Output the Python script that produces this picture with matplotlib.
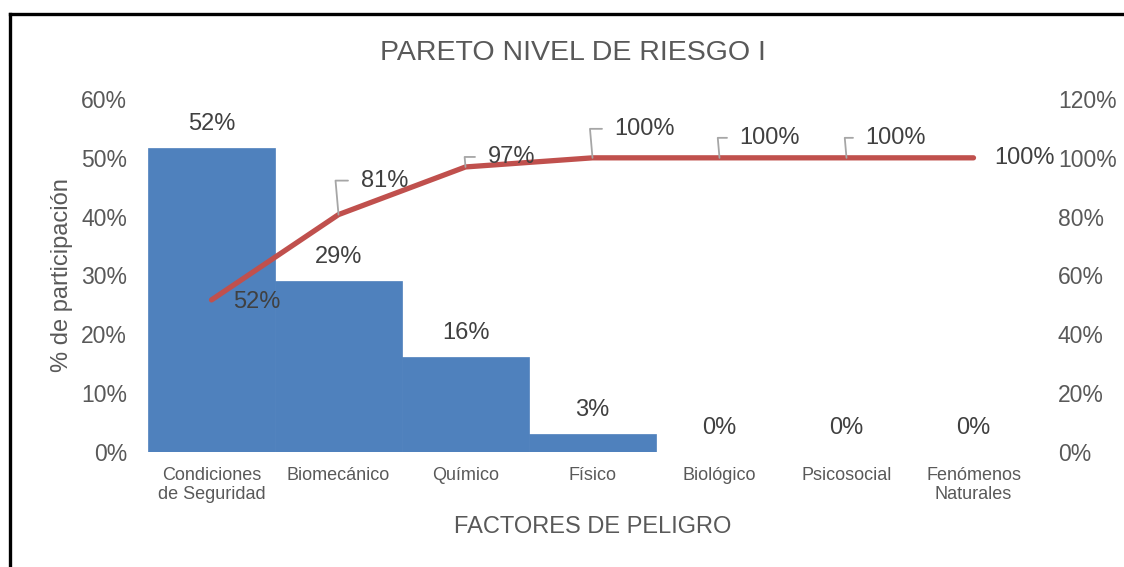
####################################################################################################
# Pareto chart: Nivel de riesgo I
####################################################################################################

import numpy as np
import matplotlib
matplotlib.use("Agg")
import matplotlib.pyplot as plt
from matplotlib.lines import Line2D
from matplotlib.ticker import PercentFormatter

plt.rcParams['font.family'] = ['Liberation Sans', 'DejaVu Sans']

# Data
categories = ['Condiciones\nde Seguridad', 'Biomecánico', 'Químico', 'Físico',
              'Biológico', 'Psicosocial', 'Fenómenos\nNaturales']
participation = [51.7, 29.0, 16.2, 3.1, 0.0, 0.0, 0.0]
cumulative = [51.7, 80.7, 96.9, 100.0, 100.0, 100.0, 100.0]

# Label offsets for the cumulative line (pixels) and whether a leader line is drawn
lineLabelOffsets = [(22, -2), (22, 34), (22, 10), (22, 29), (20, 20), (19, 20), (21, 0)]
lineLabelLeader = [False, True, True, True, True, True, False]

barColor = '#4F81BD'
lineColor = '#C0504D'
axisTextColor = '#595959'
labelTextColor = '#404040'

fig = plt.figure(figsize=(11.24, 5.67), dpi=100)
ax = fig.add_axes([148 / 1124, 1 - 452 / 567, (1037 - 148) / 1124, (452 - 99) / 567])
ax2 = ax.twinx()

x = np.arange(len(categories))
ax.bar(x, participation, width=1.0, color=barColor, edgecolor=barColor, linewidth=0.5)
ax.set_xlim(-0.5, len(categories) - 0.5)
ax.set_ylim(0, 60)
ax.set_yticks(np.arange(0, 61, 10))
ax.yaxis.set_major_formatter(PercentFormatter(decimals=0))
ax.set_xticks(x)
ax.set_xticklabels(categories, fontsize=13, color=axisTextColor, linespacing=1.1)
ax.tick_params(axis='x', length=0, pad=11)
ax.tick_params(axis='y', length=0, pad=15, labelsize=16.5, labelcolor=axisTextColor)

# Bar value labels
for xi, v in zip(x, participation):
    ax.annotate('{:.0f}%'.format(v), xy=(xi, v), xytext=(0, 24), textcoords='offset pixels',
                ha='center', va='center', fontsize=17, color=labelTextColor)

# Cumulative line
ax2.plot(x, cumulative, color=lineColor, linewidth=3.8, solid_capstyle='round',
         solid_joinstyle='round', zorder=3)
ax2.set_ylim(0, 120)
ax2.set_yticks(np.arange(0, 121, 20))
ax2.yaxis.set_major_formatter(PercentFormatter(decimals=0))
ax2.tick_params(axis='y', length=0, pad=15, labelsize=16.5, labelcolor=axisTextColor)

for xi, v, off, leader in zip(x, cumulative, lineLabelOffsets, lineLabelLeader):
    arrow = None
    if leader:
        arrow = dict(arrowstyle='-', color='#A6A6A6', lw=1.3, relpos=(0, 0.5),
                     connectionstyle='angle,angleA=0,angleB=95,rad=0',
                     shrinkA=7, shrinkB=0)
    ax2.annotate('{:.0f}%'.format(v), xy=(xi, v), xytext=off, textcoords='offset pixels',
                 ha='left', va='center', fontsize=17, color=labelTextColor,
                 arrowprops=arrow)

for spine in list(ax.spines.values()) + list(ax2.spines.values()):
    spine.set_visible(False)

# Titles
fig.text(573 / 1124, 1 - 53 / 567, 'PARETO NIVEL DE RIESGO I', ha='center', va='center',
         fontsize=20.5, color=axisTextColor)
fig.text(593 / 1124, 1 - 527 / 567, 'FACTORES DE PELIGRO', ha='center', va='center',
         fontsize=17, color=axisTextColor)
fig.text(62 / 1124, 1 - 275 / 567, '% de participación', ha='center', va='center',
         rotation=90, fontsize=17, color=axisTextColor)

# Black frame (left and top edges visible)
fig.add_artist(Line2D([10 / 1124, 10 / 1124], [0, 1 - 14 / 567], color='black', lw=2.4,
                      transform=fig.transFigure, solid_capstyle='projecting'))
fig.add_artist(Line2D([10 / 1124, 1], [1 - 14 / 567, 1 - 14 / 567], color='black', lw=2.4,
                      transform=fig.transFigure, solid_capstyle='projecting'))

plt.savefig('out.png', dpi=100)
plt.close()
